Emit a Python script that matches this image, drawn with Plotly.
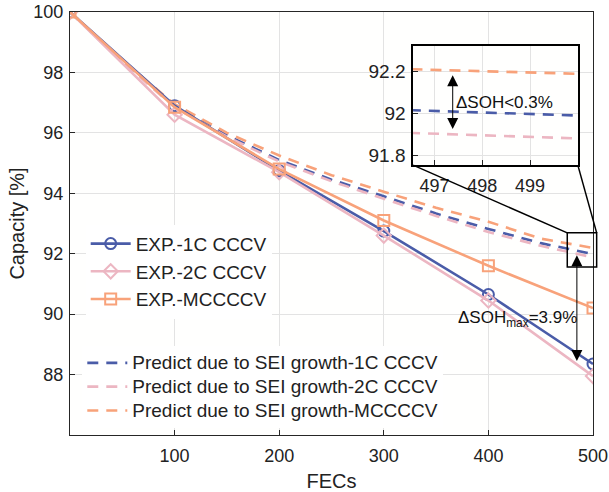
import plotly.graph_objects as go

# ---------------- data ----------------
fec_exp = [0, 100, 200, 300, 400, 500]
exp_1c = [100, 96.9, 94.75, 92.75, 90.65, 88.35]
exp_2c = [100, 96.6, 94.7, 92.6, 90.45, 87.95]
exp_mc = [100, 96.85, 94.8, 93.1, 91.6, 90.2]

fec_pred = [0, 50, 100, 150, 200, 250, 300, 350, 400, 450, 500]
pred_1c = [100, 98.38, 96.9, 95.92, 95.1, 94.45, 93.9, 93.33, 92.82, 92.35, 91.99]
pred_2c = [100, 98.35, 96.85, 95.87, 95.05, 94.4, 93.82, 93.25, 92.72, 92.26, 91.88]
pred_mc = [100, 98.4, 96.95, 96.0, 95.25, 94.6, 94.05, 93.52, 93.06, 92.5, 92.19]

x_ticks = [100, 200, 300, 400, 500]
y_ticks = [88, 90, 92, 94, 96, 98, 100]
inset_x_ticks = [497, 498, 499]
inset_y_ticks = [91.8, 92, 92.2]

BLUE = "#4A5CA8"
PINK = "#ECB6C2"
ORANGE = "#F8A27A"
FONT = "Liberation Sans, Arial, sans-serif"
AX = "#262626"

X_RANGE = [0, 500]
Y_RANGE = [86, 100]
IX_RANGE = [496.55, 500]
IY_RANGE = [91.752, 92.324]
X_DOM = [0, 1]
Y_DOM = [0, 1]
IX_DOM = [0.656, 0.971]
IY_DOM = [0.638, 0.920]

# zoom box (data coordinates of main axes)
box_x = [475.4, 503.5]
box_y = [91.56, 92.69]

def px(v):
    return X_DOM[0] + (v - X_RANGE[0]) / (X_RANGE[1] - X_RANGE[0]) * (X_DOM[1] - X_DOM[0])

def py(v):
    return Y_DOM[0] + (v - Y_RANGE[0]) / (Y_RANGE[1] - Y_RANGE[0]) * (Y_DOM[1] - Y_DOM[0])

def big(t):
    return '<span style="font-size:19px">' + t + '</span>'

fig = go.Figure()

DASH = "11px,8px"

# predicted dashed lines (main)
for name, ys, col in [
    ("Predict due to SEI growth-1C CCCV", pred_1c, BLUE),
    ("Predict due to SEI growth-2C CCCV", pred_2c, PINK),
    ("Predict due to SEI growth-MCCCCV", pred_mc, ORANGE),
]:
    fig.add_trace(go.Scatter(x=fec_pred, y=ys, mode="lines", name=big(name),
                             line=dict(color=col, width=2.6, dash=DASH),
                             legend="legend2"))

# experimental lines
for name, ys, col, sym in [
    ("EXP.-1C CCCV", exp_1c, BLUE, "circle-open"),
    ("EXP.-2C CCCV", exp_2c, PINK, "diamond-open"),
    ("EXP.-MCCCCV", exp_mc, ORANGE, "square-open"),
]:
    fig.add_trace(go.Scatter(x=fec_exp, y=ys, mode="lines+markers", name=name,
                             line=dict(color=col, width=2.6),
                             marker=dict(symbol=sym, size=11, color=col,
                                         line=dict(width=2, color=col)),
                             legend="legend"))

# inset traces
for ys, col in [(pred_mc, ORANGE), (pred_1c, BLUE), (pred_2c, PINK)]:
    fig.add_trace(go.Scatter(x=fec_pred, y=ys, mode="lines", showlegend=False,
                             line=dict(color=col, width=2.6, dash=DASH),
                             xaxis="x2", yaxis="y2"))

axis_common = dict(showline=True, linecolor=AX, linewidth=1, mirror=True,
                   ticks="inside", ticklen=5, tickcolor=AX, automargin=False,
                   ticklabeloverflow="allow",
                   showgrid=True, gridcolor="#E3E3E3", gridwidth=1,
                   zeroline=False, tickfont=dict(family=FONT, size=18, color="#222"))

fig.update_layout(
    width=609, height=492,
    margin=dict(l=70, r=16, t=12, b=57),
    paper_bgcolor="white", plot_bgcolor="#FFFFFE",
    font=dict(family=FONT, color="#222"),
    xaxis=dict(range=X_RANGE, domain=X_DOM, tickvals=x_ticks,
               title=dict(text="FECs", font=dict(size=20)),
               ticklabelstandoff=4, **axis_common),
    yaxis=dict(range=Y_RANGE, domain=Y_DOM, tickvals=y_ticks,
               title=dict(text="Capacity [%]", font=dict(size=20), standoff=3),
               ticklabelstandoff=2, **axis_common),
    xaxis2=dict(range=IX_RANGE, domain=IX_DOM, anchor="y2", tickvals=inset_x_ticks,
                ticklabelstandoff=4,
                **{**axis_common, "linecolor": "black", "linewidth": 1.5}),
    yaxis2=dict(range=IY_RANGE, domain=IY_DOM, anchor="x2", tickvals=inset_y_ticks,
                ticklabelstandoff=2,
                **{**axis_common, "linecolor": "black", "linewidth": 1.5,
                   "tickfont": dict(family=FONT, size=19, color="#222")}),
    legend=dict(x=0.03, y=0.497, xanchor="left", yanchor="top",
                bgcolor="white", borderwidth=0,
                font=dict(family=FONT, size=19, color="#222"),
                itemwidth=40, traceorder="normal"),
    legend2=dict(x=0.0235, y=0.2105, xanchor="left", yanchor="top",
                 bgcolor="white", borderwidth=0,
                 font=dict(family=FONT, size=16, color="#222"),
                 itemwidth=40, traceorder="normal"),
)

# zoom box and connectors
bx0, bx1 = px(box_x[0]), px(box_x[1])
by0, by1 = py(box_y[0]), py(box_y[1])
fig.add_shape(type="rect", xref="paper", yref="paper", x0=bx0, x1=bx1, y0=by0, y1=by1,
              line=dict(color="black", width=1.5))
fig.add_shape(type="line", xref="paper", yref="paper", x0=IX_DOM[0], y0=IY_DOM[0],
              x1=bx0, y1=by1, line=dict(color="black", width=1.5))
fig.add_shape(type="line", xref="paper", yref="paper", x0=IX_DOM[1], y0=IY_DOM[0],
              x1=bx1, y1=by1, line=dict(color="black", width=1.5))

# main double arrow
fig.add_annotation(x=484.6, y=88.45, ax=484.6, ay=92.0, xref="x", yref="y",
                   axref="x", ayref="y", text="", showarrow=True,
                   arrowhead=2, startarrowhead=2, arrowside="end+start",
                   arrowsize=2.2, startarrowsize=2.2, arrowwidth=1, arrowcolor="black")
fig.add_annotation(x=428, y=89.85, xref="x", yref="y", showarrow=False,
                   text="ΔSOH<sub>max</sub>=3.9%",
                   font=dict(family=FONT, size=17, color="#111"))

# inset double arrow
fig.add_annotation(x=497.38, y=91.925, ax=497.38, ay=92.19, xref="x2", yref="y2",
                   axref="x2", ayref="y2", text="", showarrow=True,
                   arrowhead=2, startarrowhead=2, arrowside="end+start",
                   arrowsize=2.2, startarrowsize=2.2, arrowwidth=1, arrowcolor="black")
fig.add_annotation(x=498.47, y=92.054, xref="x2", yref="y2", showarrow=False,
                   text="ΔSOH<0.3%", font=dict(family=FONT, size=17, color="#111"))

# remove the browser's default 8px body margin so the 609x492 figure fills the window
fig.write_html("out.html", config={"displayModeBar": False},
               post_script="document.body.style.margin='0';")
